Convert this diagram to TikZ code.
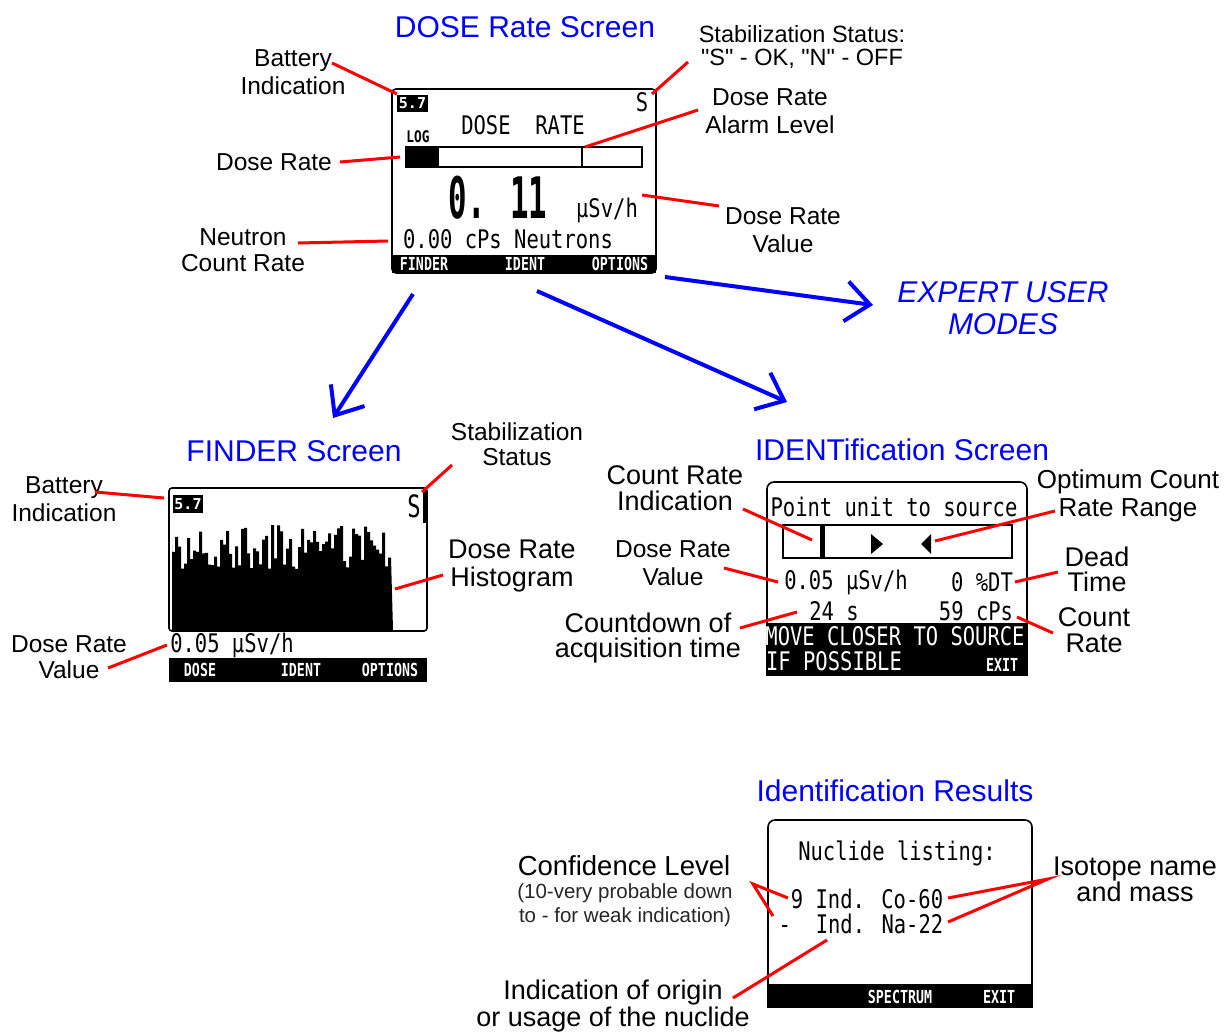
\documentclass[tikz,border=0pt]{standalone}
\usepackage{fontspec}
\setmainfont{Liberation Sans}
\newfontfamily\lcd{DejaVu Sans Mono}
\usetikzlibrary{arrows.meta}
\definecolor{tblue}{RGB}{0,0,255}
\definecolor{tred}{RGB}{255,0,0}
\tikzset{
  ttl/.style={text=tblue, font=\fontsize{30}{32}\selectfont, inner sep=0pt},
  lbl/.style={font=\fontsize{24.5}{28}\selectfont, align=center, inner sep=0pt},
  lblb/.style={font=\fontsize{27}{27}\selectfont, align=center, inner sep=0pt},
  note/.style={font=\fontsize{20.5}{24}\selectfont, text=black!85, inner sep=0pt},
  lcdtxt/.style={font=\lcd\fontsize{20.5}{22}\selectfont, inner sep=0pt, yscale=1.25},
  lcdw/.style={lcdtxt, text=white},
  softkey/.style={font=\lcd\bfseries\fontsize{13.3}{14}\selectfont, text=white, inner sep=0pt, yscale=1.35},
  batt/.style={font=\lcd\bfseries\fontsize{15}{15}\selectfont, text=white, inner sep=0pt},
  pointer/.style={draw=tred, line width=3pt},
  bigarrow/.style={draw=tblue, line width=4pt, -{Straight Barb[length=24pt,width=40pt]}},
  lcdframe/.style={draw=black, line width=1.6pt, rounded corners=4pt},
}
\begin{document}
\begin{tikzpicture}[x=1pt,y=-1pt]
\useasboundingbox (0,0) rectangle (1225,1034);

% ================= DOSE RATE SCREEN =================
\node[ttl] (t1) at (525,27) {DOSE Rate Screen};
\draw[lcdframe] (392,89) rectangle (656,273);
\fill (392,255) rectangle (656,273);
\fill (397,95) rectangle (428,112);
\node[batt] (d57) at (412.5,103.5) {5.7};
\node[lcdtxt] (dS) at (642,102) {S};
\node[lcdtxt] (dtitle) at (523,125) {DOSE\ \ RATE};
\node[font=\lcd\bfseries\fontsize{12.8}{13}\selectfont, inner sep=0pt, yscale=1.25] (dlog) at (418,137) {LOG};
\draw[line width=1.5pt] (406,147) rectangle (642,167);
\fill (406,147) rectangle (439,167);
\draw[line width=1.5pt] (582,147) -- (582,167);
\node[font=\lcd\bfseries\fontsize{44}{44}\selectfont, xscale=0.7, yscale=1.3, inner sep=0pt] (dval) at (498,198) {0. 11};
\node[lcdtxt] (dunit) at (607,210) {µSv/h};
\node[lcdtxt] (dneut) at (508,239) {0.00 cPs Neutrons};
\node[softkey] (k1) at (424,264) {FINDER};
\node[softkey] (k2) at (525,264) {IDENT};
\node[softkey] (k3) at (620,264) {OPTIONS};

\node[lbl] (l1) at (293,72) {Battery\\Indication};
\node[lbl, font=\fontsize{23.5}{22.5}\selectfont] (l2) at (802,47) {Stabilization Status:\\\textquotedbl S\textquotedbl\ - OK, \textquotedbl N\textquotedbl\ - OFF};
\node[lbl] (l3) at (770,111) {Dose Rate\\Alarm Level};
\node[lbl] (l4) at (274,162) {Dose Rate};
\node[lbl] (l5) at (783,230) {Dose Rate\\Value};
\node[lbl, font=\fontsize{24.5}{25.5}\selectfont] (l6) at (243,250) {Neutron\\Count Rate};

\coordinate (a1) at (332,63);  \coordinate (b1) at (397,94);
\coordinate (a2) at (688,62);  \coordinate (b2) at (652,94);
\coordinate (a3) at (698,110); \coordinate (b3) at (585,147);
\coordinate (a4) at (340,162); \coordinate (b4) at (400,157);
\coordinate (a5) at (719,206); \coordinate (b5) at (642,195);
\coordinate (a6) at (298,243); \coordinate (b6) at (388,241);
\foreach \i in {1,...,6} {\draw[pointer] (a\i) -- (b\i);}

% ================= BLUE ARROWS =================
\node[text=tblue, font=\itshape\fontsize{30}{32}\selectfont, align=center, inner sep=0pt] (exp) at (1003,308) {EXPERT USER\\MODES};
\coordinate (s1) at (665,277); \coordinate (e1) at (873,305);
\coordinate (s2) at (413,294); \coordinate (e2) at (333,418);
\coordinate (s3) at (537,291); \coordinate (e3) at (787,402);
\draw[bigarrow] (s1) -- (e1);
\draw[bigarrow] (s2) -- (e2);
\draw[bigarrow] (s3) -- (e3);

% ================= FINDER SCREEN =================
\node[ttl] (t2) at (294,451) {FINDER Screen};
\pgfmathsetseed{7}
\fill (172,630) -- (172,545)
  foreach \x in {172,175,...,390}
  { -- (\x,{547+22*rand}) -- ++(3,0) } -- (393,630) -- cycle;
\draw[line width=1.6pt, rounded corners=3pt] (169,488) rectangle (427,631);
\fill (173,495) rectangle (203,513);
\node[batt] (f57) at (188,504) {5.7};
\node[font=\lcd\fontsize{22}{22}\selectfont, inner sep=0pt, yscale=1.4] (fS) at (414,506) {S};
\fill (423,490) rectangle (427,523);
\node[lcdtxt] (fval) at (232,645) {0.05 µSv/h};
\fill (169,658) rectangle (427,682);
\node[softkey] (fk1) at (200,670) {DOSE};
\node[softkey] (fk2) at (301,670) {IDENT};
\node[softkey] (fk3) at (390,670) {OPTIONS};

\node[lbl] (m1) at (64,499) {Battery\\Indication};
\node[lbl, font=\fontsize{24.5}{25}\selectfont] (m2) at (517,444) {Stabilization\\Status};
\node[lblb, font=\fontsize{27}{28}\selectfont] (m3) at (512,566) {Dose Rate\\Histogram};
\node[lbl, font=\fontsize{24.5}{26}\selectfont] (m4) at (69,657) {Dose Rate\\Value};
\coordinate (c1) at (95,492);  \coordinate (d1) at (164,498);
\coordinate (c2) at (452,465); \coordinate (d2) at (422,492);
\coordinate (c3) at (443,575); \coordinate (d3) at (395,589);
\coordinate (c4) at (108,668); \coordinate (d4) at (167,645);
\foreach \i in {1,...,4} {\draw[pointer] (c\i) -- (d\i);}

% ================= IDENT SCREEN =================
\node[ttl] (t3) at (902,450) {IDENTification Screen};
\draw[lcdframe, rounded corners=7pt] (767,482) rectangle (1027,675);
\node[lcdtxt] (ipt) at (894,507) {Point unit to source};
\draw[line width=1.6pt] (783,525) rectangle (1012,558);
\fill (820,525) rectangle (825,558);
\fill (871,534) -- (883,544) -- (871,554) -- cycle;
\fill (931,534) -- (921,544) -- (931,554) -- cycle;
\node[lcdtxt] (idr) at (846,582) {0.05 µSv/h};
\node[lcdtxt] (idt) at (982,582) {0 \%DT};
\node[lcdtxt] (icd) at (834,611) {24 s};
\node[lcdtxt] (icr) at (976,611) {59 cPs};
\fill (766,623) rectangle (1028,676);
\node[lcdw] (imv) at (895,636) {MOVE CLOSER TO SOURCE};
\node[lcdw] (iif) at (834,661) {IF POSSIBLE};
\node[softkey] (iex) at (1002,665) {EXIT};

\node[lblb, font=\fontsize{27}{26}\selectfont] (n1) at (675,488) {Count Rate\\Indication};
\node[lblb, font=\fontsize{26}{28}\selectfont] (n2) at (1128,496) {Optimum Count\\Rate Range};
\node[lbl, font=\fontsize{24.5}{28}\selectfont] (n3) at (673,563) {Dose Rate\\Value};
\node[lblb, font=\fontsize{27}{25}\selectfont] (n4) at (1097,569) {Dead\\Time};
\node[lblb, font=\fontsize{27}{25.5}\selectfont] (n5) at (648,638) {Countdown of\\acquisition time};
\node[lblb, font=\fontsize{27}{25.5}\selectfont] (n6) at (1094,630) {Count\\Rate};
\coordinate (g1) at (743,509);  \coordinate (h1) at (812,540);
\coordinate (g2) at (1055,511); \coordinate (h2) at (935,541);
\coordinate (g3) at (724,568);  \coordinate (h3) at (778,582);
\coordinate (g4) at (1058,572); \coordinate (h4) at (1015,582);
\coordinate (g5) at (740,628);  \coordinate (h5) at (797,612);
\coordinate (g6) at (1053,633); \coordinate (h6) at (1017,617);
\foreach \i in {1,...,6} {\draw[pointer] (g\i) -- (h\i);}

% ================= IDENTIFICATION RESULTS =================
\node[ttl] (t4) at (895,791) {Identification Results};
\draw[lcdframe, rounded corners=7pt] (768,820) rectangle (1032,1007);
\node[lcdtxt] (rnl) at (897,853) {Nuclide listing:};
\node[lcdtxt] (rco) at (867,899) {9 Ind. Co-60};
\node[lcdtxt] (rna) at (861,924) {-\ \ Ind. Na-22};
\fill (767,984) rectangle (1033,1008);
\node[softkey] (rsp) at (900,997) {SPECTRUM};
\node[softkey] (rex) at (999,997) {EXIT};

\node[lblb, font=\fontsize{27.5}{28}\selectfont] (q1) at (624,866) {Confidence Level};
\node[note, align=center, font=\fontsize{20.5}{24}\selectfont] (q2) at (625,905) {(10-very probable down\\ to - for weak indication)};
\node[lblb, font=\fontsize{27}{26}\selectfont] (q3) at (1135,879) {Isotope name\\and mass};
\node[lblb, font=\fontsize{27}{28}\selectfont] (q4) at (613,1006) {Indication of origin\\or usage of the nuclide};
\coordinate (apx) at (753,884);
\coordinate (r1) at (788,898);
\coordinate (r2) at (773,916);
\coordinate (iso) at (1048,879);
\coordinate (r3) at (948,898);
\coordinate (r4) at (948,922);
\coordinate (org) at (733,998);
\coordinate (r5) at (827,940);
\draw[pointer] (r1) -- (apx) -- (r2);
\draw[pointer] (r3) -- (iso) -- (r4);
\draw[pointer] (org) -- (r5);
\end{tikzpicture}
\end{document}
